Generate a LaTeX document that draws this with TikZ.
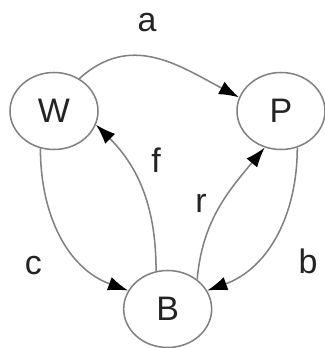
\documentclass[tikz,border=0pt]{standalone}
\usepackage{fontspec}
\setmainfont{Liberation Sans}
\usetikzlibrary{shapes.geometric,arrows.meta}
\definecolor{linegray}{RGB}{128,128,128}
\definecolor{textgray}{RGB}{35,35,35}

\begin{document}
\begin{tikzpicture}[>={Latex[length=0.6cm,width=0.42cm,color=black]},font=\fontsize{29}{33}\selectfont]
        \tikzstyle{state}=[draw=linegray,line width=1.3pt,shape=ellipse,inner sep=0pt,minimum width=2.64cm,minimum height=2.31cm,text=textgray]
        \tikzstyle{trans}=[draw=linegray,line width=1.3pt,->]
        \tikzstyle{lbl}=[text=textgray,inner sep=0pt]

        \useasboundingbox (0,0) rectangle (9.75,10.44);

        \node[state](w) at (1.62,7.11){W};
        \node[state](p) at (8.43,7.11){P};
        \node[state](b) at (5.03,1.17){B};

        \node[lbl](la) at (4.41,9.75){a};
        \node[lbl](lf) at (4.68,5.64){f};
        \node[lbl](lr) at (6.03,4.35){r};
        \node[lbl](lc) at (1.00,2.46){c};
        \node[lbl](lb) at (9.24,2.60){b};

        \draw[trans] (w.52) to[out=42,in=152,looseness=1.1] (p.162);
        \draw[trans] (w.-110) to[out=-90,in=160] (b.155);
        \draw[trans] (p.-66) to[out=-90,in=20] (b.25);
        \draw[trans] (b.107) to[out=90,in=-45] (w.-18);
        \draw[trans] (b.45) to[out=85,in=-130] (p.-114);

    \end{tikzpicture}
\end{document}
